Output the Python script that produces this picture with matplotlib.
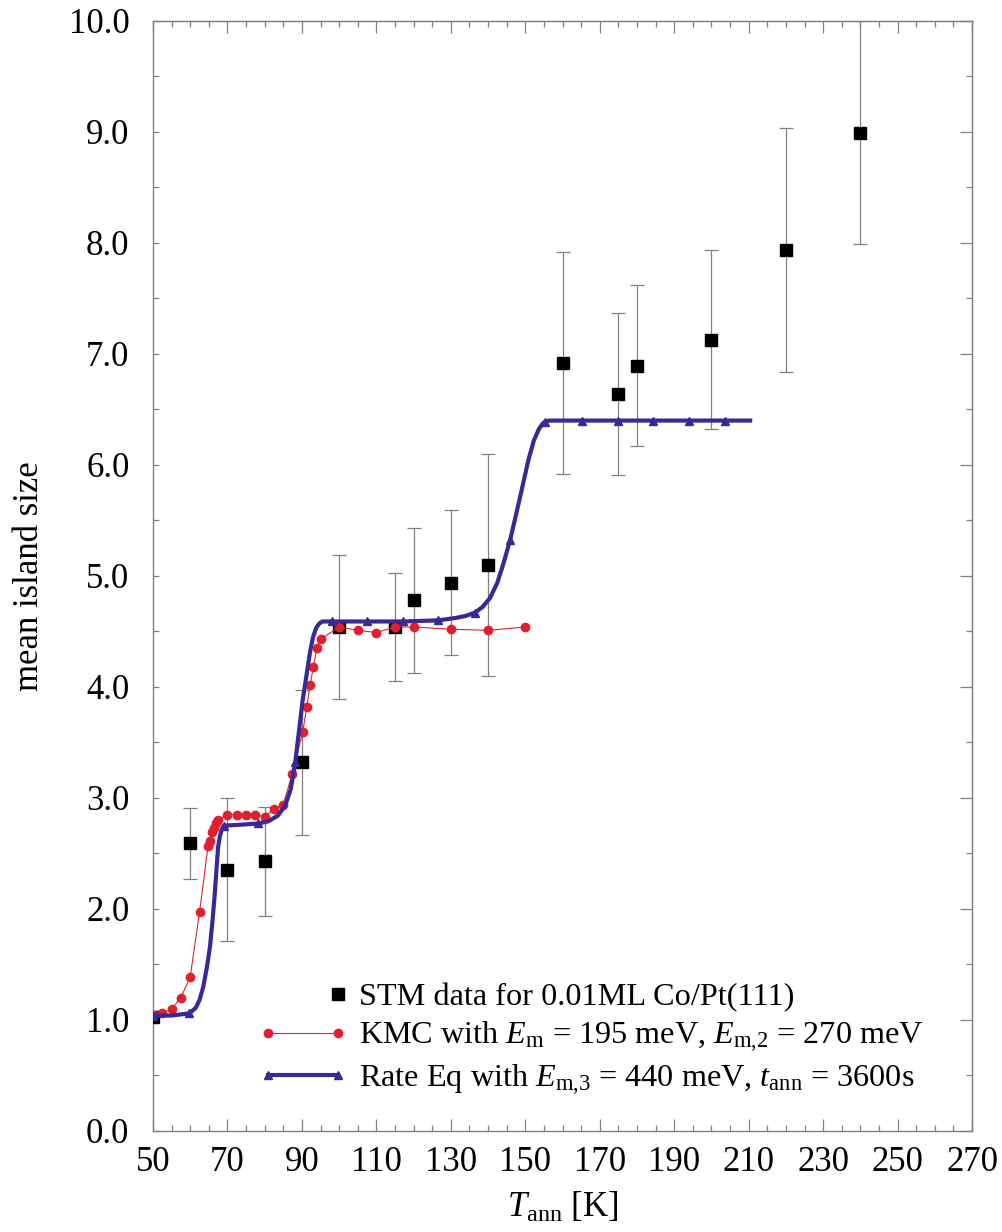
import numpy as np
import matplotlib
matplotlib.use('Agg')
import matplotlib.pyplot as plt
from matplotlib.legend_handler import HandlerLine2D
from matplotlib.lines import Line2D

plt.rcParams['font.family'] = ['Liberation Serif', 'DejaVu Serif']
plt.rcParams['mathtext.fontset'] = 'custom'
plt.rcParams['mathtext.rm'] = 'Liberation Serif'
plt.rcParams['mathtext.it'] = 'Liberation Serif:italic'

# STM data (squares with error bars)
stm_T = [50, 60, 70, 80, 90, 100, 115, 120, 130, 140, 160, 175, 180, 200, 220, 240]
stm_v = [1.03, 2.59, 2.35, 2.43, 3.32, 4.54, 4.54, 4.78, 4.94, 5.10,
         6.92, 6.64, 6.89, 7.13, 7.94, 8.99]
stm_lo = [1.03, 2.27, 1.71, 1.94, 2.67, 3.89, 4.05, 4.13, 4.29, 4.10,
          5.92, 5.91, 6.17, 6.32, 6.84, 7.99]
stm_hi = [1.03, 2.91, 3.00, 2.92, 3.97, 5.19, 5.03, 5.43, 5.59, 6.10,
          7.92, 7.37, 7.62, 7.94, 9.04, 10.0]

# KMC simulation
kmc_T = [50, 52.5, 55, 57.5, 60, 62.5, 64.8, 65.3, 65.8, 66.4, 67, 67.5,
         70, 72.5, 75, 77.5, 80, 82.5, 85, 87.4, 90.2, 91.3, 92.2, 93.1,
         94, 95, 100, 105, 110, 115, 120, 130, 140, 150]
kmc_v = [1.045, 1.06, 1.10, 1.20, 1.39, 1.97, 2.57, 2.61, 2.69, 2.73, 2.77, 2.80,
         2.85, 2.85, 2.85, 2.85, 2.83, 2.90, 2.94, 3.22, 3.59, 3.82, 4.02, 4.18,
         4.35, 4.43, 4.54, 4.51, 4.49, 4.54, 4.54, 4.52, 4.51, 4.54]

# Rate equation curve
rate_T = [50, 55, 59.8, 61.5, 62.5, 63.5, 64.5, 65.3, 66, 66.6, 67.1, 67.5, 68.0, 68.5, 69,
          74, 78.3, 81, 83.5, 85.5, 87, 88.2, 89.2, 90.2, 91.3, 92.2, 93.0, 93.8, 94.6, 95.5, 98, 107.4,
          117.2, 126.6, 131, 134, 136.5, 138.5, 140.5, 142.5, 144.2, 145.9, 147.5, 149.2, 150.8,
          152.3, 153.6, 154.6, 155.3, 156.5, 158, 165.1, 174.8, 184.4, 194, 203.6, 210.4]
rate_v = [1.04, 1.04, 1.06, 1.11, 1.18, 1.30, 1.48, 1.66, 1.90, 2.14, 2.38, 2.56, 2.66, 2.72, 2.75,
          2.76, 2.77, 2.79, 2.84, 2.93, 3.08, 3.32, 3.60, 3.88, 4.12, 4.32, 4.45, 4.53, 4.57, 4.59, 4.59, 4.59,
          4.59, 4.60, 4.62, 4.64, 4.67, 4.72, 4.80, 4.94, 5.12, 5.32, 5.55, 5.80, 6.04,
          6.22, 6.32, 6.37, 6.39, 6.40, 6.40, 6.40, 6.40, 6.40, 6.40, 6.40, 6.40]
rate_marks = [0, 2, 14, 16, 21, 30, 31, 32, 33, 36, 41, 48, 51, 52, 53, 54, 55]

red = '#e2202d'
blue = '#3a2896'
grey = '#808080'


class RightMarker(HandlerLine2D):
    # single legend marker placed at the right end of the handle box
    def get_xdata(self, legend, xdescent, ydescent, width, height, fontsize):
        r = -xdescent + width - 0.3 * fontsize
        return [r, r], [r]


fig = plt.figure(figsize=(10.02, 12.32), dpi=100)
ax = fig.add_axes([0.1527, 0.082, 0.8174, 0.901])

stm_err = [np.array(stm_v) - np.array(stm_lo), np.array(stm_hi) - np.array(stm_v)]
ax.errorbar(stm_T, stm_v, yerr=stm_err, fmt='none', ecolor=grey, elinewidth=0.9,
            capsize=4.7, capthick=0.9, zorder=2)
ax.plot(stm_T, stm_v, 's', color='black', markersize=9, zorder=3)
ax.plot(kmc_T, kmc_v, '-o', color=red, lw=0.8, markersize=6, zorder=4)
ax.plot(rate_T, rate_v, '-^', color=blue, lw=3.0, markersize=5.5, markevery=rate_marks, zorder=5)

ax.set_xlim(50, 270)
ax.set_ylim(0, 10)
ax.set_xticks(np.arange(50, 271, 20))
ax.set_xticks(np.arange(50, 271, 5), minor=True)
ax.set_yticks(np.arange(0, 10.01, 1.0))
ax.set_yticks(np.arange(0, 10.01, 0.5), minor=True)
ax.set_yticklabels(['%.1f' % v for v in np.arange(0, 10.01, 1.0)])

for sp in ax.spines.values():
    sp.set_color(grey)
    sp.set_linewidth(1.0)

ax.tick_params(axis='both', which='both', direction='in', color=grey, width=0.9,
               labelsize=25)
ax.tick_params(axis='x', which='major', length=8.6, pad=11)
ax.tick_params(axis='x', which='minor', length=4.3)
ax.tick_params(axis='y', which='both', length=4.3, pad=17)

top = ax.secondary_xaxis('top')
top.set_xticks(np.arange(50, 271, 20))
top.set_xticks(np.arange(50, 271, 5), minor=True)
top.tick_params(which='both', direction='in', color=grey, width=0.9, labeltop=False)
top.tick_params(which='major', length=8.6)
top.tick_params(which='minor', length=4.3)
top.spines['top'].set_color(grey)

right = ax.secondary_yaxis('right')
right.set_yticks(np.arange(0, 10.01, 1.0))
right.set_yticks(np.arange(0, 10.01, 0.5), minor=True)
right.tick_params(which='both', direction='in', color=grey, width=0.9, labelright=False)
right.tick_params(which='major', length=8.6)
right.tick_params(which='minor', length=4.3)
right.spines['right'].set_color(grey)

ax.set_ylabel('mean island size', fontsize=25, labelpad=16)
ax.set_xlabel(r'$T_{\rm ann}$ [K]', fontsize=25, labelpad=8)

h_stm = Line2D([], [], ls='none', marker='s', color='black', markersize=9)
h_kmc = Line2D([], [], ls='-', marker='o', color=red, lw=0.8, markersize=6)
h_rate = Line2D([], [], ls='-', marker='^', color=blue, lw=3.0, markersize=5.5)
leg = ax.legend([h_stm, h_kmc, h_rate],
                ['STM data for 0.01ML Co/Pt(111)',
                 r'KMC with $E_{\rm m}$ = 195 meV, $E_{\rm m{,}2}$ = 270 meV',
                 r'Rate Eq with $E_{\rm m{,}3}$ = 440 meV, $t_{\rm ann}$ = 3600s'],
                handler_map={h_stm: RightMarker(numpoints=1)},
                numpoints=2, frameon=False, fontsize=23.2, handlelength=2.79,
                handletextpad=0.33, labelspacing=0.26, borderpad=0, borderaxespad=0,
                loc='upper left', bbox_to_anchor=(0.1285, 0.134))

fig.savefig('out.png', dpi=100)
